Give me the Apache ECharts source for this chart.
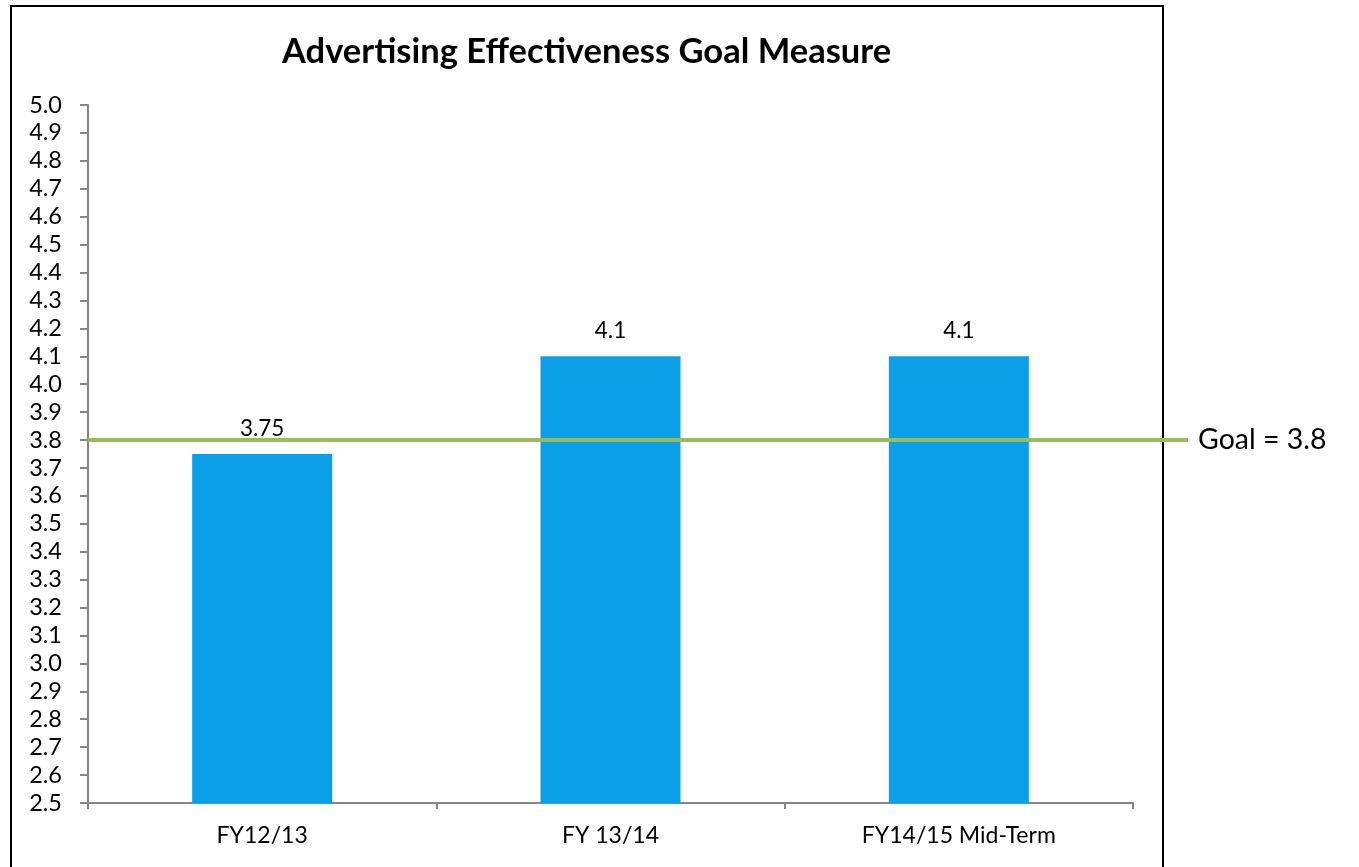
<!DOCTYPE html>
<html>
<head>
<meta charset="utf-8">
<script src="https://cdn.jsdelivr.net/npm/echarts@6/dist/echarts.min.js"></script>
<style>
  html, body { margin: 0; padding: 0; background: #fff; }
  #chart { width: 1359px; height: 867px; }
</style>
</head>
<body>
<div id="chart"></div>
<script>
// Survey periods and their average effectiveness scores
const categories = ['FY12/13', 'FY 13/14', 'FY14/15 Mid-Term'];
const scores = [3.75, 4.1, 4.1];
// Target score drawn as a horizontal reference line
const goalValue = 3.8;
const goalLabel = 'Goal = 3.8';
// Value axis range and step
const yMin = 2.5;
const yMax = 5.0;
const yStep = 0.1;

const FONT = 'Lato';
const chart = echarts.init(document.getElementById('chart'), null, { renderer: 'canvas' });

const axisGray = '#868686';

chart.setOption({
  animation: false,
  backgroundColor: '#ffffff',
  textStyle: { fontFamily: FONT, color: '#000' },
  title: {
    text: 'Advertising Effectiveness Goal Measure',
    left: 277,
    top: 29,
    textStyle: { fontFamily: FONT, fontWeight: 'bold', fontSize: 34.5, color: '#000' }
  },
  graphic: [{
    type: 'rect',
    shape: { x: 11, y: 6, width: 1152, height: 900 },
    style: { fill: 'none', stroke: '#000', lineWidth: 2 },
    silent: true,
    z: 0
  }],
  grid: [
    { left: 88, right: 226, top: 105, bottom: 64 },
    // same vertical extent, reaching past the plot to carry the goal line
    { left: 88, right: 171, top: 105, bottom: 64 }
  ],
  xAxis: [{
    type: 'category',
    gridIndex: 0,
    data: categories,
    boundaryGap: true,
    axisLine: { lineStyle: { color: axisGray, width: 2 } },
    axisTick: { show: true, length: 6, lineStyle: { color: axisGray, width: 2 } },
    axisLabel: { color: '#000', fontSize: 23, margin: 21, fontFamily: FONT }
  }, {
    type: 'value',
    gridIndex: 1,
    min: 0,
    max: 1,
    show: false
  }],
  yAxis: [{
    type: 'value',
    gridIndex: 0,
    min: yMin,
    max: yMax,
    interval: yStep,
    axisLine: { show: true, lineStyle: { color: axisGray, width: 2 } },
    axisTick: { show: true, length: 8, lineStyle: { color: axisGray, width: 2 } },
    splitLine: { show: false },
    axisLabel: {
      color: '#000',
      fontSize: 23.5,
      margin: 26,
      fontFamily: FONT,
      formatter: v => v.toFixed(1)
    }
  }, {
    type: 'value',
    gridIndex: 1,
    min: yMin,
    max: yMax,
    show: false
  }],
  series: [{
    type: 'bar',
    xAxisIndex: 0,
    yAxisIndex: 0,
    data: scores,
    barWidth: 140,
    itemStyle: { color: '#0a9fe6' },
    label: {
      show: true,
      position: 'top',
      distance: 14,
      color: '#000',
      fontSize: 22.5,
      fontFamily: FONT,
      formatter: p => String(p.value)
    },
    z: 2
  }, {
    type: 'line',
    xAxisIndex: 1,
    yAxisIndex: 1,
    data: [[0, goalValue], [1, goalValue]],
    symbol: 'none',
    lineStyle: { color: '#9bbb59', width: 4 },
    endLabel: {
      show: true,
      formatter: goalLabel,
      color: '#000',
      fontSize: 28.5,
      fontFamily: FONT,
      distance: 10
    },
    z: 3
  }]
});
</script>
</body>
</html>
